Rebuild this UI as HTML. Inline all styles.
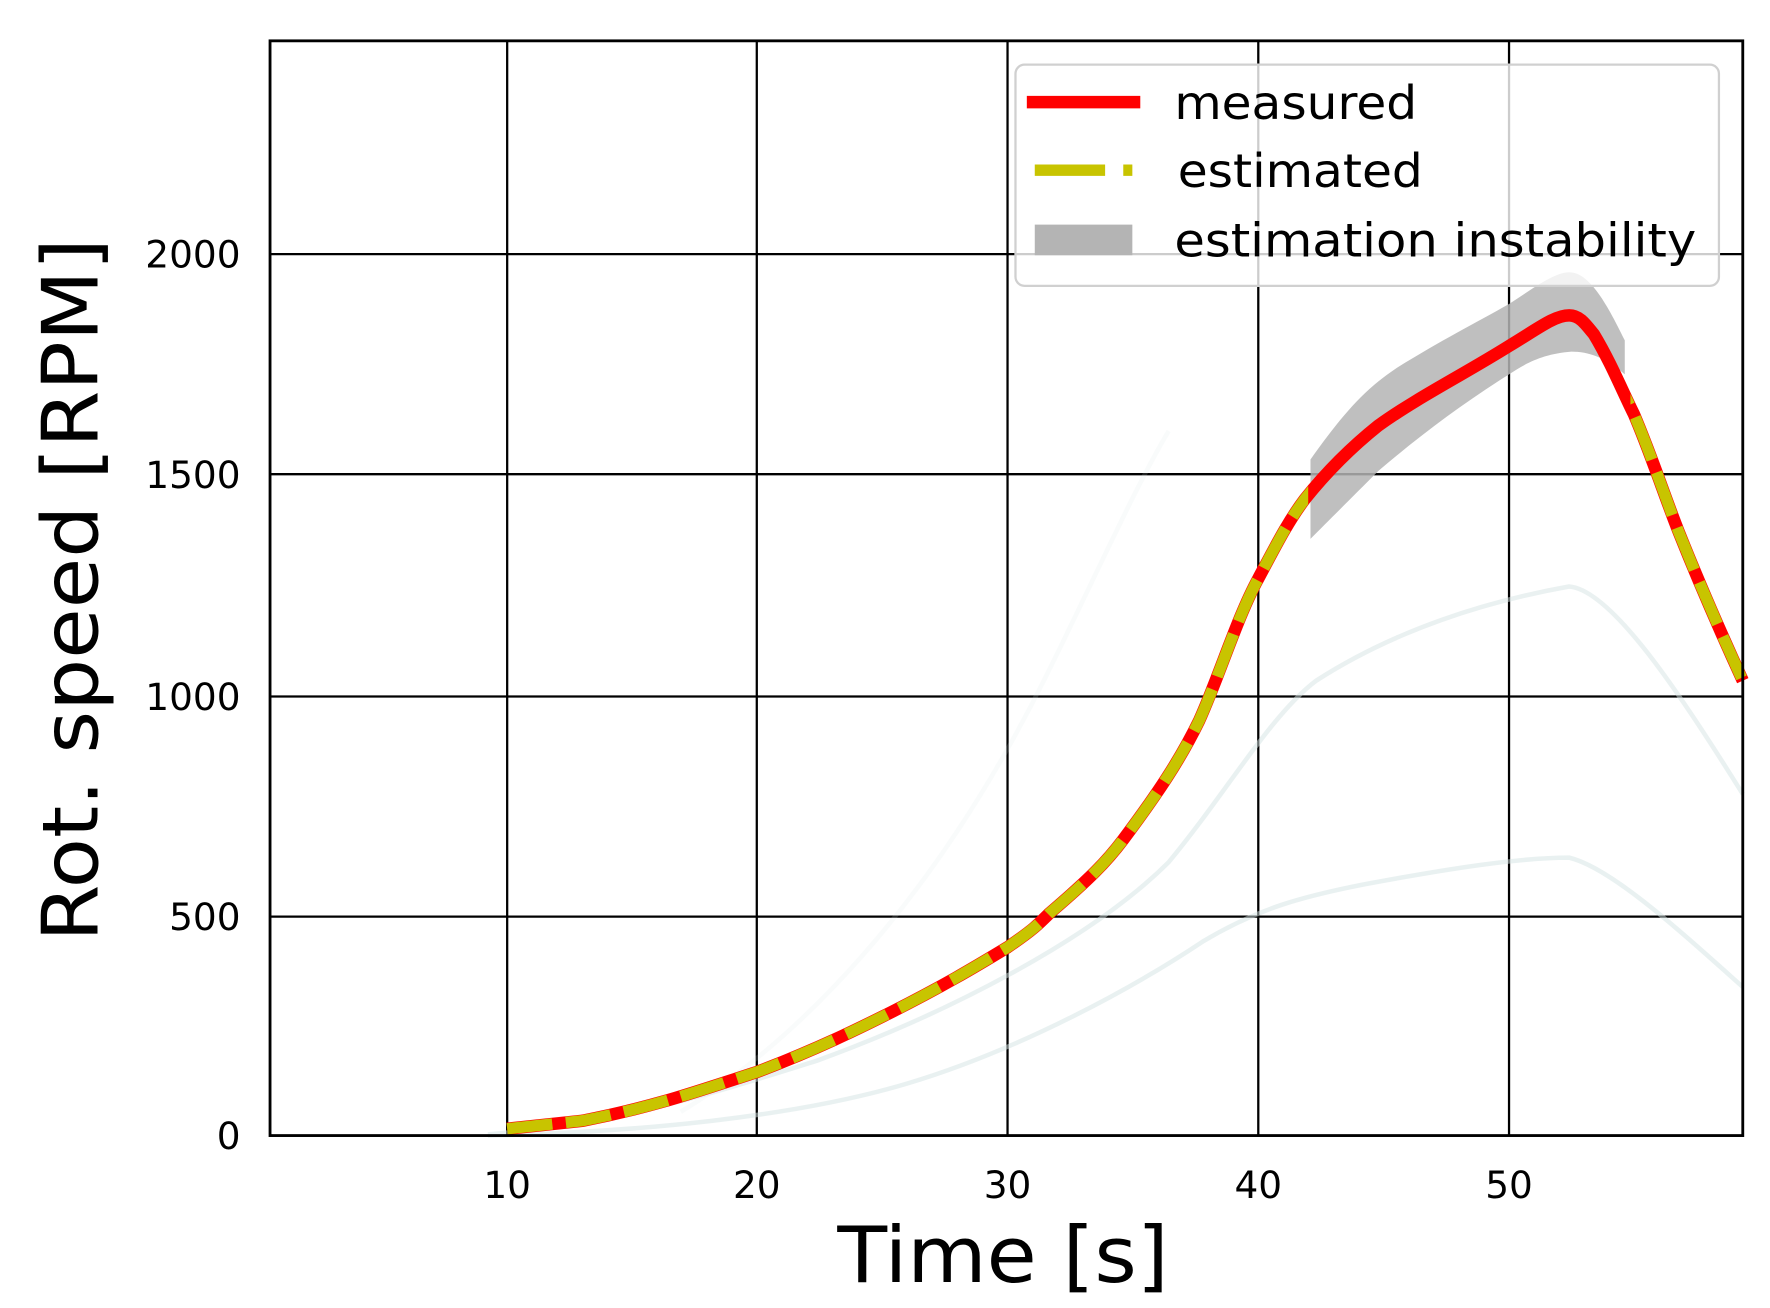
<!DOCTYPE html>
<html><head><meta charset="utf-8"><style>html,body{margin:0;padding:0;background:#fff}svg{display:block}</style></head>
<body>
<svg width="1770" height="1308" viewBox="0 0 1560 1153" preserveAspectRatio="none" xmlns="http://www.w3.org/2000/svg" font-family="DejaVu Sans, Liberation Sans, sans-serif">
<rect width="1560" height="1153" fill="#fff"/>
<g stroke="#000" stroke-width="2">
<line x1="447" y1="36" x2="447" y2="1001"/><line x1="667" y1="36" x2="667" y2="1001"/>
<line x1="888" y1="36" x2="888" y2="1001"/><line x1="1109" y1="36" x2="1109" y2="1001"/>
<line x1="1330" y1="36" x2="1330" y2="1001"/>
<line x1="238" y1="808" x2="1536" y2="808"/><line x1="238" y1="614" x2="1536" y2="614"/>
<line x1="238" y1="418" x2="1536" y2="418"/><line x1="238" y1="224" x2="1536" y2="224"/>
</g>
<g fill="none" stroke="#d5e4e4" stroke-width="4" opacity="0.5">
<path d="M430,1000 C550,990 640,960 720,935 C830,895 960,830 1030,760 C1080,700 1120,630 1160,600 C1230,555 1310,530 1383,517 C1420,520 1480,610 1536,700"/>
<path d="M430,1001 C560,998 700,985 800,955 C900,925 1000,870 1060,830 C1110,800 1150,790 1200,780 C1280,765 1340,756 1383,756 C1420,765 1480,820 1536,870"/>
<path d="M600,980 C700,920 820,800 920,600 C960,520 1000,430 1030,380" opacity="0.3"/>
</g>
<path d="M1155,405 C1180,370 1200,345 1230,325 C1270,300 1300,285 1330,268 C1350,255 1370,240 1383,240 C1400,240 1415,265 1432,300 L1432,330 C1415,315 1400,310 1385,310 C1360,312 1345,320 1330,330 C1290,355 1250,385 1215,415 C1190,440 1170,460 1155,475 Z" fill="#b4b4b4" opacity="0.85"/>
<path d="M447,995 L513,988 C580,975 620,960 667,945 C720,925 760,905 780,895 C830,870 860,852 888,835 C910,820 915,815 925,805 C960,775 975,760 990,740 C1020,700 1040,670 1057,635 C1075,595 1090,545 1109,510 C1125,480 1135,460 1150,440 C1170,415 1190,395 1215,375 C1250,350 1290,330 1330,305 C1355,290 1370,278 1383,278 C1392,278 1397,285 1405,295 C1420,320 1430,345 1440,365 C1455,400 1468,440 1480,470 C1500,520 1520,565 1536,600" fill="none" stroke="#ff0000" stroke-width="11"/>
<clipPath id="c1"><rect x="0" y="0" width="1153" height="1153"/><rect x="1437" y="0" width="200" height="1153"/></clipPath>
<path d="M447,995 L513,988 C580,975 620,960 667,945 C720,925 760,905 780,895 C830,870 860,852 888,835 C910,820 915,815 925,805 C960,775 975,760 990,740 C1020,700 1040,670 1057,635 C1075,595 1090,545 1109,510 C1125,480 1135,460 1150,440 C1170,415 1190,395 1215,375 C1250,350 1290,330 1330,305 C1355,290 1370,278 1383,278 C1392,278 1397,285 1405,295 C1420,320 1430,345 1440,365 C1455,400 1468,440 1480,470 C1500,520 1520,565 1536,600" fill="none" stroke="#c8c400" stroke-width="10" stroke-dasharray="40 12" clip-path="url(#c1)"/>
<rect x="238" y="36" width="1298" height="965" fill="none" stroke="#000" stroke-width="2.5"/>
<rect x="895" y="57" width="620" height="195" rx="8" fill="#fff" fill-opacity="0.8" stroke="#d0d0d0" stroke-width="2"/>
<line x1="905" y1="90" x2="1005" y2="90" stroke="#ff0000" stroke-width="11"/>
<line x1="912" y1="150" x2="998" y2="150" stroke="#c8c400" stroke-width="10" stroke-dasharray="62 16"/>
<rect x="912" y="198" width="86" height="27" fill="#b4b4b4"/>
<g font-size="41" fill="#000">
<text x="1035" y="105" textLength="214" lengthAdjust="spacingAndGlyphs">measured</text>
<text x="1038" y="165" textLength="216" lengthAdjust="spacingAndGlyphs">estimated</text>
<text x="1035" y="226" textLength="460" lengthAdjust="spacingAndGlyphs">estimation instability</text>
</g>
<g font-size="33" fill="#000" text-anchor="middle">
<text x="447" y="1056">10</text><text x="667" y="1056">20</text><text x="888" y="1056">30</text>
<text x="1109" y="1056">40</text><text x="1330" y="1056">50</text>
</g>
<g font-size="33" fill="#000" text-anchor="end">
<text x="212" y="1013">0</text><text x="212" y="820">500</text><text x="212" y="626">1000</text>
<text x="212" y="430">1500</text><text x="212" y="236">2000</text>
</g>
<text x="738" y="1130" font-size="68" fill="#000" textLength="292" lengthAdjust="spacingAndGlyphs">Time [s]</text>
<text transform="translate(86,830) rotate(-90)" font-size="68" fill="#000" textLength="620" lengthAdjust="spacingAndGlyphs">Rot. speed [RPM]</text>
</svg>
</body></html>
